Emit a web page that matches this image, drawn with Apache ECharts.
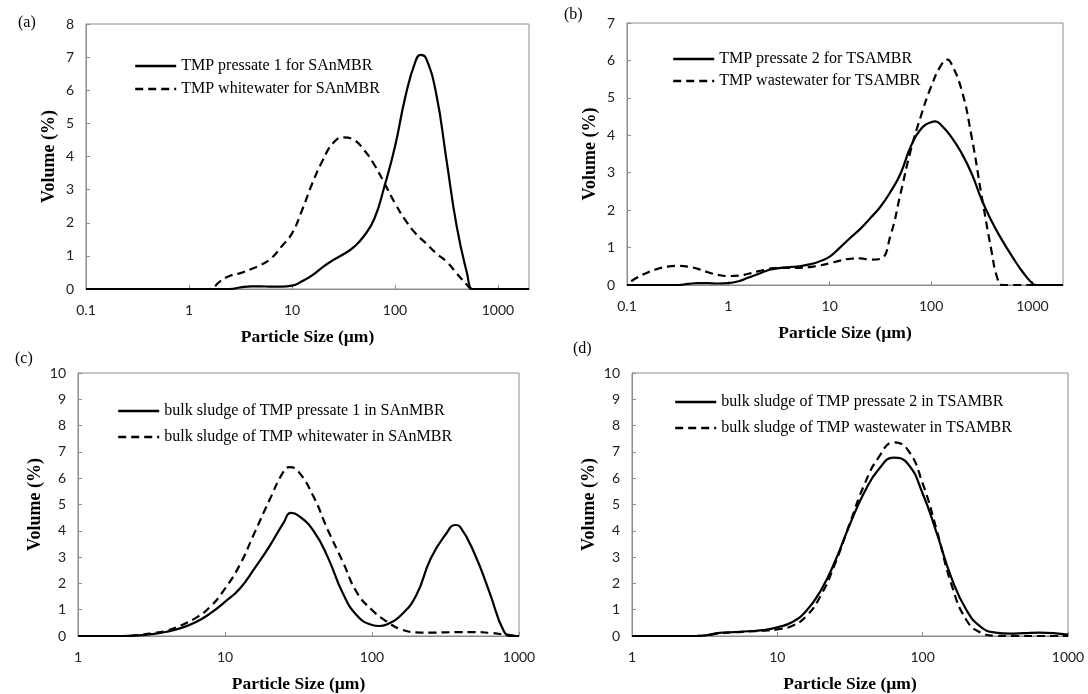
<!DOCTYPE html>
<html>
<head>
<meta charset="utf-8">
<script src="https://cdn.jsdelivr.net/npm/echarts@6/dist/echarts.min.js"></script>
<style>html,body{margin:0;padding:0;background:#fff}#c{width:1088px;height:694px}</style>
</head>
<body>
<div id="c"></div>
<script>
// ---- Data (particle size in µm, volume in %) ----
// Panel (a)
const aSolidX = [0.1, 1, 2, 2.5, 3.16, 4, 5, 6.3, 7.9, 10, 12.6, 15.8, 20, 25, 31.6, 40, 50, 63, 79, 100, 126, 158, 178, 200, 251, 316, 398, 501, 562, 631, 2000];
const aSolidY = [0, 0, 0, 0, 0.05, 0.08, 0.08, 0.07, 0.07, 0.1, 0.24, 0.42, 0.67, 0.87, 1.05, 1.27, 1.6, 2.12, 3.1, 4.3, 5.8, 6.87, 7.07, 6.97, 5.9, 3.9, 1.88, 0.47, 0, 0, 0];
const aDashX = [0.1, 1, 1.58, 2, 2.5, 3.16, 4, 5, 6.3, 7.9, 10, 12.6, 15.8, 20, 25, 31.6, 40, 50, 63, 79, 100, 126, 158, 200, 251, 316, 398, 501, 562, 631, 2000];
const aDashY = [0, 0, 0, 0.23, 0.4, 0.48, 0.6, 0.73, 0.93, 1.28, 1.68, 2.4, 3.2, 3.9, 4.4, 4.58, 4.5, 4.2, 3.75, 3.19, 2.59, 2.08, 1.68, 1.38, 1.08, 0.83, 0.47, 0.12, 0, 0, 0];
// Panel (b)
const bSolidX = [0.1, 0.2, 0.32, 0.4, 0.5, 0.63, 0.79, 1, 1.26, 1.58, 2, 2.5, 3.16, 4, 5, 6.3, 7.9, 10, 12.6, 15.8, 20, 25, 31.6, 40, 50, 63, 79, 100, 110, 126, 158, 200, 251, 316, 398, 501, 631, 794, 1000, 1100, 1259, 2000];
const bSolidY = [0, 0, 0, 0.03, 0.05, 0.05, 0.04, 0.05, 0.1, 0.2, 0.3, 0.4, 0.45, 0.48, 0.5, 0.55, 0.63, 0.76, 1.0, 1.25, 1.5, 1.78, 2.09, 2.5, 2.98, 3.7, 4.16, 4.35, 4.37, 4.27, 3.96, 3.52, 2.98, 2.27, 1.69, 1.2, 0.76, 0.36, 0.04, 0, 0, 0];
const bDashX = [0.11, 0.126, 0.158, 0.2, 0.25, 0.316, 0.4, 0.5, 0.63, 0.79, 1, 1.26, 1.58, 2, 2.5, 3.16, 4, 5, 6.3, 7.9, 10, 12.6, 15.8, 20, 25, 31.6, 40, 50, 63, 79, 100, 126, 145, 158, 200, 251, 316, 398, 446, 501, 631, 2000];
const bDashY = [0.1, 0.2, 0.33, 0.43, 0.49, 0.51, 0.49, 0.43, 0.34, 0.27, 0.24, 0.25, 0.3, 0.37, 0.43, 0.46, 0.46, 0.46, 0.48, 0.52, 0.58, 0.65, 0.7, 0.71, 0.68, 0.7, 1.35, 2.45, 3.6, 4.5, 5.3, 5.88, 6.02, 5.92, 5.21, 3.96, 2.36, 0.85, 0.22, 0, 0, 0];
// Panel (c)
const cSolidX = [1, 1.58, 2, 2.5, 3.16, 4, 5, 6.3, 7.9, 10, 12.6, 15.8, 20, 25, 28, 31.6, 40, 50, 63, 79, 100, 112, 126, 158, 200, 251, 316, 370, 398, 501, 631, 794, 900, 1000];
const cSolidY = [0, 0, 0, 0.02, 0.07, 0.16, 0.3, 0.52, 0.85, 1.3, 1.8, 2.55, 3.4, 4.3, 4.68, 4.58, 4.0, 3.0, 1.65, 0.78, 0.42, 0.38, 0.44, 0.8, 1.55, 2.95, 3.85, 4.22, 4.15, 3.1, 1.65, 0.15, 0, 0];
const cDashX = [1, 1.58, 2, 2.5, 3.16, 4, 5, 6.3, 7.9, 10, 12.6, 15.8, 20, 25, 27.5, 31.6, 40, 50, 63, 79, 100, 126, 158, 200, 251, 316, 398, 501, 631, 794, 1000];
const cDashY = [0, 0, 0, 0.03, 0.1, 0.2, 0.4, 0.68, 1.1, 1.8, 2.7, 3.9, 5.15, 6.25, 6.42, 6.25, 5.3, 4.04, 2.85, 1.65, 0.99, 0.55, 0.25, 0.14, 0.13, 0.14, 0.15, 0.15, 0.12, 0.06, 0];
// Panel (d)
const dSolidX = [1, 2, 2.5, 3.16, 4, 5, 6.3, 7.9, 10, 12.6, 15.8, 20, 25, 31.6, 40, 50, 63, 79, 100, 126, 158, 200, 251, 316, 398, 501, 631, 794, 1000];
const dSolidY = [0, 0, 0, 0.02, 0.12, 0.15, 0.18, 0.22, 0.33, 0.52, 0.95, 1.75, 2.85, 4.25, 5.5, 6.35, 6.78, 6.55, 5.42, 3.85, 2.2, 0.99, 0.35, 0.13, 0.09, 0.11, 0.13, 0.11, 0.05];
const dDashX = [1, 2, 2.5, 3.16, 4, 5, 6.3, 7.9, 10, 12.6, 15.8, 20, 25, 31.6, 40, 50, 63, 79, 100, 126, 158, 200, 251, 316, 398, 1000];
const dDashY = [0, 0, 0, 0.02, 0.1, 0.14, 0.17, 0.2, 0.25, 0.38, 0.75, 1.56, 2.76, 4.3, 5.8, 6.81, 7.36, 7.08, 5.8, 3.95, 1.95, 0.61, 0.13, 0.01, 0, 0];

const names = {
  a: ['TMP pressate 1 for SAnMBR', 'TMP whitewater for SAnMBR'],
  b: ['TMP pressate 2 for TSAMBR', 'TMP wastewater for TSAMBR'],
  c: ['bulk sludge of TMP pressate 1 in SAnMBR', 'bulk sludge of TMP whitewater in SAnMBR'],
  d: ['bulk sludge of TMP pressate 2 in TSAMBR', 'bulk sludge of TMP wastewater in TSAMBR']
};
const xRanges = [[0.1, 2000], [0.1, 2000], [1, 1000], [1, 1000]];
const yMax = [8, 7, 10, 10];
const panelLabels = ['(a)', '(b)', '(c)', '(d)'];

const pair = (xs, ys) => xs.map((x, i) => [x, ys[i]]);

// ---- Layout ----
const grids = [
  {left: 86, top: 24, width: 443, height: 265},
  {left: 627, top: 23, width: 436, height: 262},
  {left: 78, top: 373, width: 441, height: 263},
  {left: 632, top: 373, width: 436, height: 263}
];
const yGaps = [28, 28, 34, 34];
const legendPos = [
  {left: 134, top: 58, gap: 7},
  {left: 672, top: 51, gap: 6},
  {left: 117, top: 403, gap: 10},
  {left: 674, top: 394, gap: 10}
];
const labelPos = [[18, 15], [564, 7], [15, 351], [573, 341]];

const serif = '"Liberation Serif", "Times New Roman", serif';
const sans = 'Lato, "Liberation Sans", sans-serif';

const xAxis = [], yAxis = [], series = [], legend = [], graphic = [];
const seriesData = [
  [pair(aSolidX, aSolidY), pair(aDashX, aDashY)],
  [pair(bSolidX, bSolidY), pair(bDashX, bDashY)],
  [pair(cSolidX, cSolidY), pair(cDashX, cDashY)],
  [pair(dSolidX, dSolidY), pair(dDashX, dDashY)]
];
const keys = ['a', 'b', 'c', 'd'];

grids.forEach((g, i) => {
  g.show = true;
  g.borderColor = '#8c8c8c';
  g.borderWidth = 1;
  g.containLabel = false;
  xAxis.push({
    type: 'log', logBase: 10, gridIndex: i,
    min: xRanges[i][0], max: xRanges[i][1],
    name: 'Particle Size (µm)', nameLocation: 'middle', nameGap: 39,
    nameTextStyle: {fontFamily: serif, fontWeight: 'bold', fontSize: 17.5, color: '#000'},
    axisLine: {show: true, lineStyle: {color: '#8c8c8c', width: 1}},
    axisTick: {show: true, inside: true, length: 4, lineStyle: {color: '#8c8c8c'}},
    minorTick: {show: false},
    splitLine: {show: false},
    axisLabel: {fontFamily: sans, fontSize: 14, color: '#222', margin: 14, showMaxLabel: xRanges[i][1] === 1000,
      formatter: v => String(+v.toPrecision(3))}
  });
  yAxis.push({
    type: 'value', gridIndex: i, min: 0, max: yMax[i], interval: 1,
    name: 'Volume (%)', nameLocation: 'middle', nameGap: yGaps[i],
    nameTextStyle: {fontFamily: serif, fontWeight: 'bold', fontSize: 18, color: '#000'},
    axisLine: {show: true, lineStyle: {color: '#8c8c8c', width: 1}},
    axisTick: {show: true, inside: true, length: 4, lineStyle: {color: '#8c8c8c'}},
    splitLine: {show: false},
    axisLabel: {fontFamily: sans, fontSize: 14, color: '#222', margin: 12}
  });
  const nm = names[keys[i]];
  series.push({
    type: 'line', name: nm[0], xAxisIndex: i, yAxisIndex: i,
    data: seriesData[i][0], smooth: 0.5, symbol: 'none',
    lineStyle: {color: '#000', width: 2.2, type: 'solid'}, itemStyle: {color: '#000'}
  });
  series.push({
    type: 'line', name: nm[1], xAxisIndex: i, yAxisIndex: i,
    data: seriesData[i][1], smooth: 0.5, symbol: 'none',
    lineStyle: {color: '#000', width: 2.2, type: [8, 5]}, itemStyle: {color: '#000'}
  });
  legend.push({
    data: nm, orient: 'vertical', left: legendPos[i].left, top: legendPos[i].top,
    padding: 0, itemWidth: 41, itemHeight: 14, itemGap: legendPos[i].gap,
    itemStyle: {opacity: 0},
    lineStyle: {width: 2.4},
    textStyle: {fontFamily: serif, fontSize: 16, color: '#000'},
    selectedMode: false
  });
  graphic.push({
    type: 'text', left: labelPos[i][0], top: labelPos[i][1],
    style: {text: panelLabels[i], font: '16px ' + serif, fill: '#000'}
  });
});

const chart = echarts.init(document.getElementById('c'), null, {renderer: 'canvas'});
chart.setOption({
  animation: false,
  backgroundColor: '#fff',
  grid: grids, xAxis, yAxis, series, legend, graphic
});
</script>
</body>
</html>
